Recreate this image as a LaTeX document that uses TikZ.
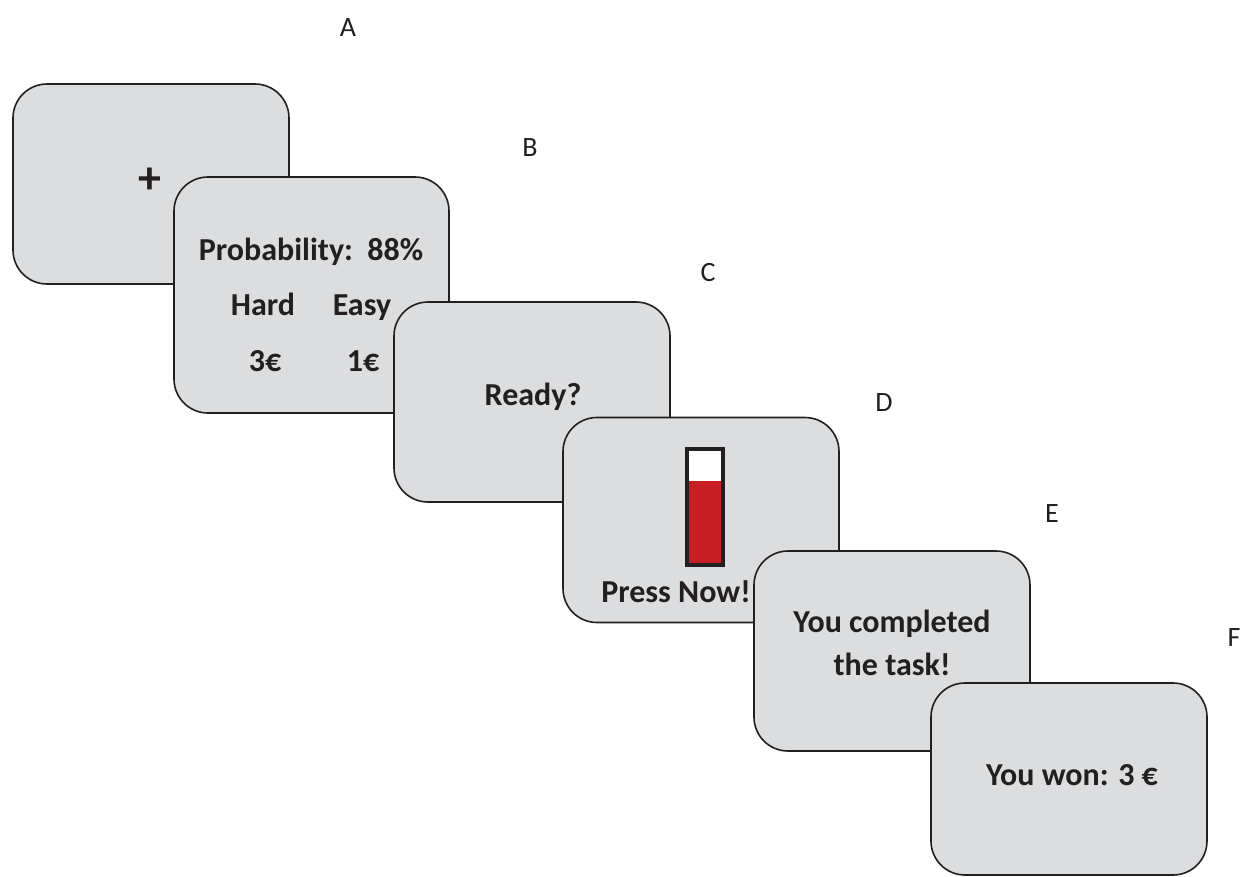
\documentclass[tikz,border=0pt]{standalone}
\usepackage{fontspec}
\setmainfont{Carlito}
\definecolor{screengray}{HTML}{DCDDDE}
\definecolor{inkdark}{HTML}{231F20}
\definecolor{barred}{HTML}{C91D24}

\begin{document}
\begin{tikzpicture}[x = 1pt, y = -1pt,
		screen/.style = {draw = inkdark, line width = 1.6pt, fill = screengray, rounded corners = 34pt, inner sep = 0pt},
		cue/.style = {text = inkdark, inner sep = 0pt, anchor = base, font = \fontsize{32}{39}\selectfont\bfseries},
		tag/.style = {text = inkdark, inner sep = 0pt, anchor = base, font = \fontsize{28}{32}\selectfont}]
				\useasboundingbox (0, 0) rectangle (1253, 876);
				% screens, back to front
				\node[screen, minimum width = 276pt, minimum height = 200pt] (scrA) at (151, 184) {};
					\node[cue, anchor = center, font = \fontsize{46}{46}\selectfont\bfseries] (fix) at (150, 181) {+};
				\node[screen, minimum width = 275pt, minimum height = 236pt] (scrB) at (311.5, 295) {};
					\node[cue] (prob) at (311, 260) {Probability:\hspace{0.45em}88\%};
					\node[cue] (hard) at (263, 315) {Hard};
					\node[cue] (easy) at (362, 315) {Easy};
					\node[cue] (rewH) at (265, 371) {3€};
					\node[cue] (rewE) at (363, 371) {1€};
				\node[screen, minimum width = 276pt, minimum height = 200pt] (scrC) at (532, 402) {};
					\node[cue] (ready) at (533, 405) {Ready?};
				\node[screen, minimum width = 276pt, minimum height = 205pt] (scrD) at (701, 520) {};
					\draw[draw = inkdark, line width = 3.2pt, fill = white] (687, 449) rectangle (723, 565);
					\fill[barred] (688.6, 481) rectangle (721.4, 563.4);
					\node[cue] (press) at (676, 602) {Press Now!};
				\node[screen, minimum width = 276pt, minimum height = 200pt] (scrE) at (892, 651) {};
					\node[cue] (done1) at (892, 632) {You completed};
					\node[cue] (done2) at (892, 675) {the task!};
				\node[screen, minimum width = 276pt, minimum height = 192pt] (scrF) at (1069, 779) {};
					\node[cue] (won) at (1072, 785) {You won: 3 €};
				% panel letters
				\node[tag] (labA) at (348, 36) {A};
				\node[tag] (labB) at (530, 156) {B};
				\node[tag] (labC) at (708, 281) {C};
				\node[tag] (labD) at (884, 411) {D};
				\node[tag] (labE) at (1052, 522) {E};
				\node[tag] (labF) at (1234, 646) {F};
			\end{tikzpicture}
\end{document}
